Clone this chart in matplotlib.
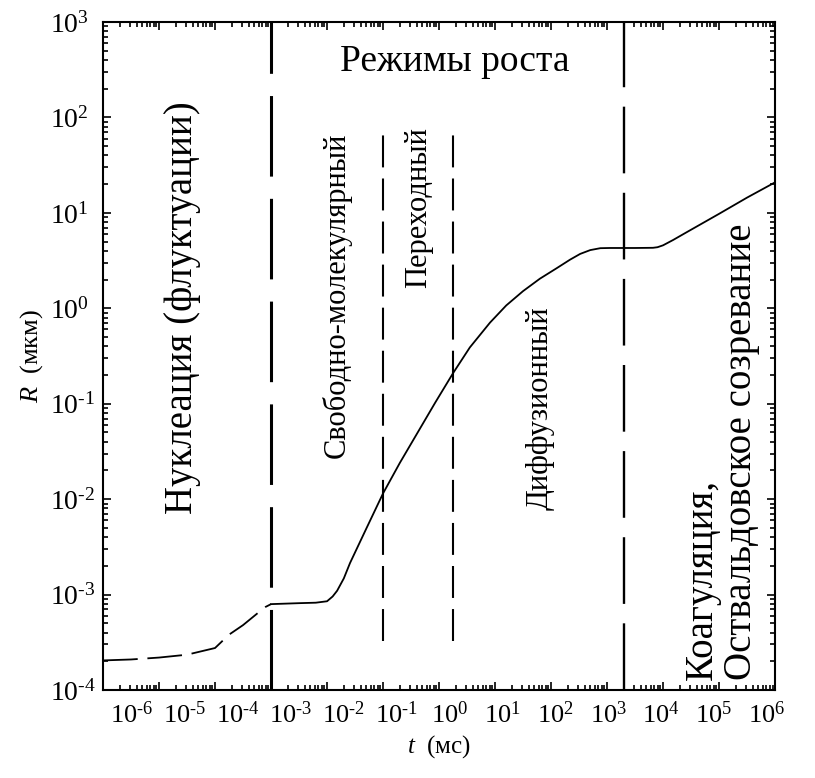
import numpy as np
import matplotlib
matplotlib.use("Agg")
import matplotlib.pyplot as plt
from matplotlib.ticker import LogLocator, NullFormatter, FuncFormatter
from matplotlib.transforms import ScaledTranslation

plt.rcParams['font.family'] = ['Liberation Serif', 'DejaVu Serif']
plt.rcParams['mathtext.fontset'] = 'custom'
plt.rcParams['mathtext.rm'] = 'Liberation Serif'
plt.rcParams['mathtext.it'] = 'Liberation Serif:italic'
plt.rcParams['lines.scale_dashes'] = False

# growth curve R(t) (log10 of t in ms, log10 of R in um)
log_t = [-6.0, -5.5, -5.0, -4.5, -4.0, -3.75, -3.5, -3.25, -3.1, -3.0,
         -2.5, -2.2, -2.0, -1.9, -1.82, -1.7, -1.59, -1.3, -1.0, -0.7,
         -0.39, -0.07, 0.25, 0.55, 0.91, 1.2, 1.5, 1.8, 2.1, 2.34, 2.52,
         2.7, 2.88, 3.05, 3.5, 3.82, 3.9, 4.0, 4.18, 4.4, 5.0, 5.5, 6.0]
log_r = [-3.69, -3.68, -3.66, -3.63, -3.56, -3.42, -3.32, -3.2, -3.13, -3.10,
         -3.09, -3.085, -3.07, -3.02, -2.96, -2.83, -2.67, -2.31, -1.94, -1.62,
         -1.31, -0.99, -0.68, -0.41, -0.15, 0.03, 0.18, 0.31, 0.42, 0.51, 0.57,
         0.61, 0.63, 0.632, 0.632, 0.634, 0.64, 0.66, 0.716, 0.79, 0.99, 1.16, 1.32]
t_split = -3.0   # nucleation part is dashed

# regime boundaries (ms)
major_bounds = [1e-3, 2e3]
minor_bounds = [1e-1, 1.8]
minor_span = [3.3e-4, 83]

t = 10.0 ** np.array(log_t)
r = 10.0 ** np.array(log_r)
dash_part = np.array(log_t) <= t_split
solid_part = np.array(log_t) >= t_split


def pow_label(v, pos):
    e = int(round(np.log10(v)))
    if e < 0:
        return '$10^{\u2010%d}$' % (-e)
    return '$10^{%d}$' % e


fig = plt.figure(figsize=(8.15, 7.78), dpi=100)
ax = fig.add_axes([0.1264, 0.1131, 0.8246, 0.8586])

ax.plot(t[dash_part], r[dash_part], color='black', lw=1.3, dashes=(25, 7))
ax.plot(t[solid_part], r[solid_part], color='black', lw=1.3)

ax.axvline(major_bounds[0], color='black', lw=2.2, dashes=(58, 16))
ax.axvline(major_bounds[1], color='black', lw=1.7, dashes=(48, 14))
for xb in minor_bounds:
    ax.plot([xb, xb], minor_span, color='black', lw=1.5, dashes=(23, 8))

ax.set_xscale('log')
ax.set_yscale('log')
ax.set_xlim(1e-6, 1e6)
ax.set_ylim(1e-4, 1e3)

ax.set_xticks(10.0 ** np.arange(-6, 7))
ax.set_yticks(10.0 ** np.arange(-4, 4))
ax.xaxis.set_major_formatter(FuncFormatter(pow_label))
ax.yaxis.set_major_formatter(FuncFormatter(pow_label))
ax.xaxis.set_minor_locator(LogLocator(base=10, subs=np.arange(2, 10), numticks=20))
ax.yaxis.set_minor_locator(LogLocator(base=10, subs=np.arange(2, 10), numticks=20))
ax.xaxis.set_minor_formatter(NullFormatter())
ax.yaxis.set_minor_formatter(NullFormatter())

ax.tick_params(which='both', direction='in', top=True, right=True, width=1.2)
ax.tick_params(which='major', length=6, labelsize=20)
ax.tick_params(which='minor', length=3.5)
ax.tick_params(axis='x', pad=8, labelsize=19)
ax.tick_params(axis='y', pad=38)
for lab in ax.get_yticklabels():
    lab.set_horizontalalignment('left')

# time labels are spread a little tighter than the ticks
for k, lab in enumerate(ax.get_xticklabels()):
    dx = (29 - 3.1 * k) / 100.0
    lab.set_transform(lab.get_transform() + ScaledTranslation(dx, 0, fig.dpi_scale_trans))

for s in ax.spines.values():
    s.set_linewidth(1.5)

ax.set_xlabel('$t$  (мс)', fontsize=18, labelpad=4)
ax.set_ylabel('$R$  (мкм)', fontsize=19, labelpad=4)

tr = ax.transAxes
ax.text(0.524, 0.940, 'Режимы роста', transform=tr, fontsize=27,
        ha='center', va='center')
ax.text(0.119, 0.573, 'Нуклеация (флуктуации)', transform=tr, fontsize=28,
        rotation=90, ha='center', va='center')
ax.text(0.348, 0.591, 'Свободно-молекулярный', transform=tr, fontsize=22,
        rotation=90, ha='center', va='center')
ax.text(0.470, 0.722, 'Переходный', transform=tr, fontsize=22,
        rotation=90, ha='center', va='center')
ax.text(0.650, 0.422, 'Диффузионный', transform=tr, fontsize=22,
        rotation=90, ha='center', va='center')
ax.text(0.921, 0.015, 'Коагуляция,\nОствальдовское созревание', transform=tr,
        fontsize=28, rotation=90, ha='center', va='bottom', multialignment='left',
        linespacing=1.1)

fig.savefig('out.png', dpi=100)
